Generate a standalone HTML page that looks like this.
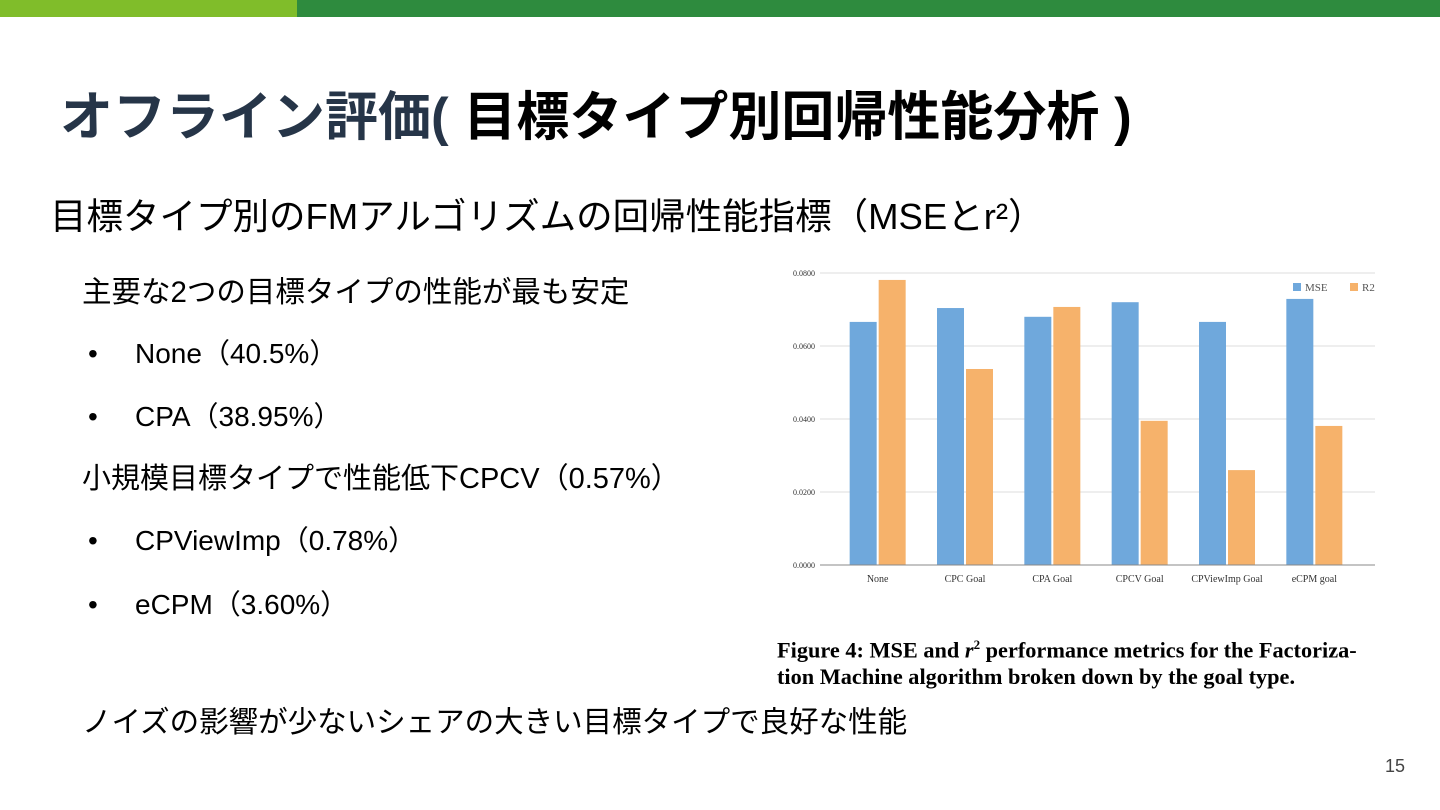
<!DOCTYPE html>
<html><head><meta charset="utf-8"><style>
body{margin:0;width:1440px;height:810px;background:#fff;position:relative;overflow:hidden;font-family:"Liberation Sans","Noto Sans CJK JP",sans-serif;}
.t{position:absolute;white-space:nowrap;color:#000;}
</style></head><body>
<div style="position:absolute;left:0;top:0;width:297px;height:17px;background:#80bd2a"></div>
<div style="position:absolute;left:297px;top:0;width:1143px;height:17px;background:#2e8b3e"></div>
<div class="t" style="left:60px;top:86px;font-size:53px;font-weight:bold;line-height:64px"><span style="color:#263548">オフライン評価(</span> 目標タイプ別回帰性能分析 )</div>
<div class="t" style="left:50px;top:194px;font-size:36.5px;line-height:46px">目標タイプ別のFMアルゴリズムの回帰性能指標（MSEとr²）</div>
<div class="t" style="left:82px;top:275px;font-size:29.5px;line-height:36px">主要な2つの目標タイプの性能が最も安定</div>
<div class="t" style="left:88px;top:336px;font-size:28px;line-height:36px">•<span style="position:absolute;left:47px">None（40.5%）</span></div>
<div class="t" style="left:88px;top:399px;font-size:28px;line-height:36px">•<span style="position:absolute;left:47px">CPA（38.95%）</span></div>
<div class="t" style="left:82px;top:461px;font-size:29px;line-height:36px">小規模目標タイプで性能低下CPCV（0.57%）</div>
<div class="t" style="left:88px;top:523px;font-size:28px;line-height:36px">•<span style="position:absolute;left:47px">CPViewImp（0.78%）</span></div>
<div class="t" style="left:88px;top:587px;font-size:28px;line-height:36px">•<span style="position:absolute;left:47px">eCPM（3.60%）</span></div>
<div class="t" style="left:82px;top:705px;font-size:29.5px;line-height:36px">ノイズの影響が少ないシェアの大きい目標タイプで良好な性能</div>
<div class="t" style="left:777px;top:631px;font-family:'Liberation Serif',serif;font-weight:bold;font-size:22.3px;line-height:27px">Figure 4: MSE and <i>r</i><sup style="font-size:13px">2</sup> performance metrics for the Factoriza-<br>tion Machine algorithm broken down by the goal type.</div>
<div class="t" style="left:1385px;top:756px;font-size:18px;color:#444">15</div>
<svg id="chart" width="1440" height="810" style="position:absolute;left:0;top:0" font-family="Liberation Serif, serif"></svg>
<script>
const categories=["None","CPC Goal","CPA Goal","CPCV Goal","CPViewImp Goal","eCPM goal"];
const mseValues=[0.0666,0.0704,0.0680,0.0720,0.0666,0.0729];
const r2Values=[0.0781,0.0537,0.0707,0.0395,0.0260,0.0381];
const tickValues=[0,0.02,0.04,0.06,0.08];
const tickLabels=["0.0000","0.0200","0.0400","0.0600","0.0800"];
const svg=document.getElementById('chart');const NS='http://www.w3.org/2000/svg';
const gx0=820,gx1=1375,x0=834,x1=1358,y0=565,yTop=273,vmax=0.08;
const y=v=>y0-(v/vmax)*(y0-yTop);
const step=(x1-x0)/categories.length;
const xc=i=>x0+step*(i+0.5);
function mk(t,a){const e=document.createElementNS(NS,t);for(const k in a)e.setAttribute(k,a[k]);svg.appendChild(e);return e;}
tickValues.forEach((v,i)=>{
 const l=mk('line',{x1:gx0,x2:gx1,y1:y(v),y2:y(v),stroke:i==0?'#888':'#ddd','stroke-width':1});
 
 
 const t=mk('text',{x:815,y:y(v)+3,'font-size':8,'text-anchor':'end',fill:'#333'});t.textContent=tickLabels[i];
 
 
});
const bw=27;
categories.forEach((c,i)=>{
 const m=mk('rect',{x:xc(i)-bw-1,y:y(mseValues[i]),width:bw,height:y0-y(mseValues[i]),fill:'#6fa8dc'});
 
 
 const r=mk('rect',{x:xc(i)+1,y:y(r2Values[i]),width:bw,height:y0-y(r2Values[i]),fill:'#f6b26b'});
 
 
 const t=mk('text',{x:xc(i),y:582,'font-size':10,'text-anchor':'middle',fill:'#333'});t.textContent=c;
 
 
});
mk('line',{x1:gx0,x2:gx1,y1:y0,y2:y0,stroke:'#888','stroke-width':1});
const lg=[['MSE','#6fa8dc',1293],['R2','#f6b26b',1350]];
lg.forEach(([n,c,lx])=>{
 const r=mk('rect',{x:lx,y:283,width:8,height:8,fill:c});
 
 
 const t=mk('text',{x:lx+12,y:291,'font-size':11,fill:'#555'});t.textContent=n;
 
 
});
</script>
</body></html>
